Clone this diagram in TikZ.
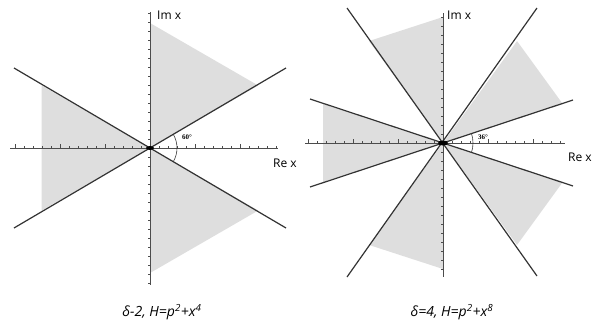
\documentclass[tikz,border=0pt]{standalone}
\usepackage{fontspec}
\setmainfont{Open Sans}
\newfontfamily\anglefont{Liberation Serif}
\usetikzlibrary{positioning}

\begin{document}
\begin{tikzpicture}[x=1pt,y=1pt,
  sector/.style={fill=black!13},
  axis/.style={draw=black!70,line width=0.8pt},
  tickmark/.style={draw=black!70,line width=0.5pt},
  ray/.style={draw=black!80,line width=1.2pt},
  axlabel/.style={font=\fontsize{12}{14}\selectfont,anchor=west,inner sep=0pt},
  anglabel/.style={font=\anglefont\fontsize{7}{8}\selectfont\bfseries,inner sep=0pt},
  caption/.style={font=\fontsize{14}{16}\selectfont\itshape,inner sep=0pt}]
\useasboundingbox (0,0) rectangle (595,-322);

% left: delta = 2
\begin{scope}[shift={(150,-148)}]
\coordinate (o1) at (0,0);
\foreach \a in {30,150,270}
  \fill[sector] (o1) -- (\a:125) -- ({\a+60}:125) -- cycle;
\draw[axis] (-140,0) -- (128,0);
\draw[axis] (0,136) -- (0,-137);
\foreach \k in {-15,...,14} \draw[tickmark] (\k*9,0) -- (\k*9,2);
\foreach \k in {-3,...,2} \draw[tickmark] (\k*45,0) -- (\k*45,4);
\foreach \k in {-15,...,15} \draw[tickmark] (0,\k*9) -- (-2,\k*9);
\draw[ray] (-136,80) -- (136,-80);
\draw[ray] (-136,-80) -- (136,80);
\fill[black] (o1) ellipse[x radius=4,y radius=2];
\draw[black!80,line width=0.6pt] (-30:27) arc[start angle=-30,end angle=30,radius=27];
\node[anglabel] (ang1) at (37,11) {60°};
\node[axlabel] (im1) at (7,133) {Im x};
\node[axlabel] (re1) at (123,-15) {Re x};
\end{scope}
\node[caption] (cap1) at (162,-312) {δ-2, H=p\textsuperscript{2}+x\textsuperscript{4}};

% right: delta = 4
\begin{scope}[shift={(443,-143)}]
\coordinate (o2) at (0,0);
\foreach \a in {18,90,162,234,306}
  \fill[sector] (o2) -- (\a:126) -- ({\a+36}:126) -- cycle;
\draw[axis] (-138,0) -- (122,0);
\draw[axis] (0,130) -- (0,-134);
\foreach \k in {-15,...,13} \draw[tickmark] (\k*9,0) -- (\k*9,2);
\foreach \k in {-3,...,2} \draw[tickmark] (\k*45,0) -- (\k*45,4);
\foreach \k in {-14,...,14} \draw[tickmark] (0,\k*9) -- (-2,\k*9);
\draw[ray] (-133,44) -- (130,-43);
\draw[ray] (-133,-44) -- (130,43);
\draw[ray] (-96,135) -- (94,-133);
\draw[ray] (94,135) -- (-96,-134);
\fill[black] (o2) ellipse[x radius=5,y radius=2.5];
\draw[black!80,line width=0.6pt] (-18:30) arc[start angle=-18,end angle=18,radius=30];
\node[anglabel] (ang2) at (40,6) {36°};
\node[axlabel] (im2) at (4,128) {Im x};
\node[axlabel] (re2) at (125,-14) {Re x};
\end{scope}
\node[caption] (cap2) at (452,-312) {δ=4, H=p\textsuperscript{2}+x\textsuperscript{8}};
\end{tikzpicture}
\end{document}
